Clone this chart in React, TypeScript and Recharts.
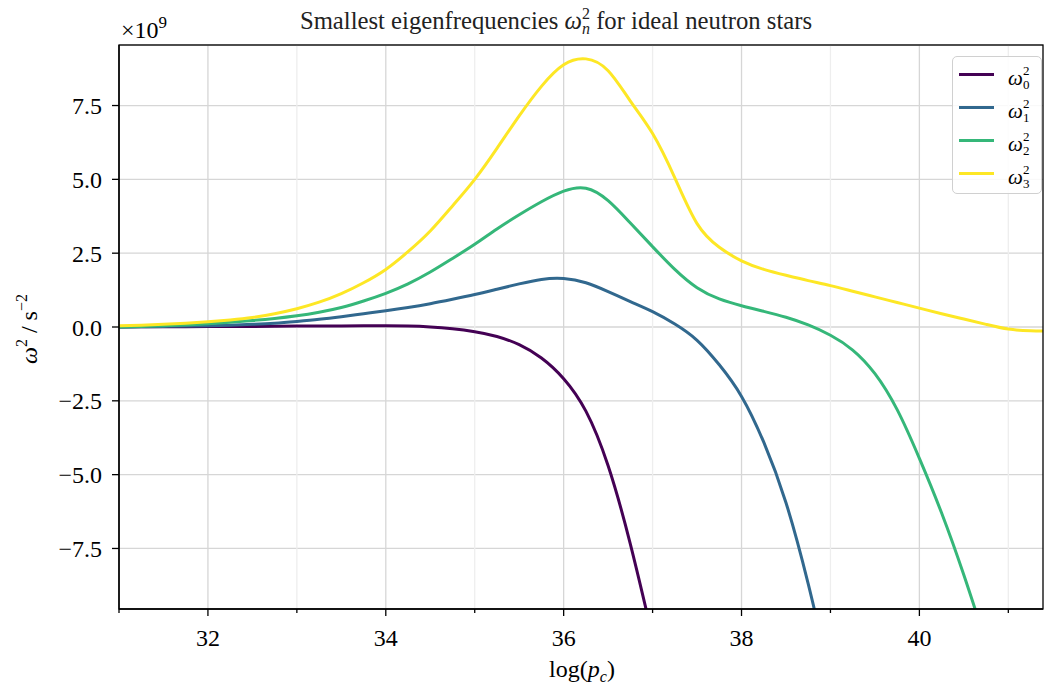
import {
  CartesianGrid,
  Legend,
  Line,
  LineChart,
  ReferenceLine,
  XAxis,
  YAxis,
} from "recharts";

// log(p_c) sample positions
const logPc = [
  31, 31.25, 31.5, 31.75, 32, 32.25, 32.5, 32.75, 33, 33.25, 33.5, 33.75, 34, 34.25, 34.5, 34.75,
  35, 35.25, 35.5, 35.75, 36, 36.25, 36.5, 36.75, 37, 37.25, 37.5, 37.75, 38, 38.25, 38.5, 38.75,
  39, 39.25, 39.5, 39.75, 40, 40.25, 40.5, 40.75, 41, 41.25, 41.5,
];

// omega_n^2 in units of 1e9 s^-2 (series stop once the curve has left the plot)
const omega0 = [
  0, 0.005, 0.01, 0.01, 0.015, 0.02, 0.02, 0.025, 0.03, 0.03, 0.035, 0.04, 0.04, 0.03, 0.0, -0.06,
  -0.16, -0.32, -0.6, -1.05, -1.75, -2.85, -4.7, -7.35, -10.5,
];
const omega1 = [
  0, 0.01, 0.02, 0.03, 0.04, 0.06, 0.09, 0.13, 0.19, 0.26, 0.35, 0.45, 0.55, 0.66, 0.79, 0.94,
  1.1, 1.28, 1.46, 1.61, 1.64, 1.5, 1.2, 0.86, 0.52, 0.1, -0.45, -1.28, -2.35, -3.9, -5.95, -8.7,
  -11.9,
];
const omega2 = [
  0, 0.02, 0.04, 0.07, 0.11, 0.16, 0.22, 0.29, 0.38, 0.5, 0.66, 0.88, 1.14, 1.46, 1.86, 2.32,
  2.8, 3.32, 3.8, 4.24, 4.6, 4.7, 4.28, 3.52, 2.72, 1.95, 1.33, 0.95, 0.72, 0.53, 0.33, 0.07,
  -0.28, -0.78, -1.58, -2.8, -4.45, -6.3, -8.4, -10.7,
];
const omega3 = [
  0.04, 0.06, 0.09, 0.13, 0.18, 0.24, 0.32, 0.45, 0.62, 0.84, 1.13, 1.5, 1.95, 2.55, 3.25, 4.1,
  5.0, 6.05, 7.15, 8.15, 8.88, 9.08, 8.68, 7.65, 6.55, 5.05, 3.5, 2.7, 2.24, 1.95, 1.75, 1.57,
  1.4, 1.21, 1.02, 0.83, 0.64, 0.45, 0.27, 0.09, -0.07, -0.13, -0.14,
];

const yTicks = [-7.5, -5, -2.5, 0, 2.5, 5, 7.5];
const xTicks = [31, 32, 33, 34, 35, 36, 37, 38, 39, 40, 41];
const majorX = [32, 34, 36, 38, 40];
const minorX = [31, 33, 35, 37, 39, 41];

const SERIES = [
  { key: "w0", idx: "0", color: "#440154" },
  { key: "w1", idx: "1", color: "#31688e" },
  { key: "w2", idx: "2", color: "#35b779" },
  { key: "w3", idx: "3", color: "#fde725" },
];

const data = logPc.map((x, i) => ({
  x,
  w0: omega0[i] ?? null,
  w1: omega1[i] ?? null,
  w2: omega2[i] ?? null,
  w3: omega3[i] ?? null,
}));

const FONT = "'Liberation Serif', 'Times New Roman', serif";
const W = 1044;
const H = 684;

const fmtY = (v: number) => v.toFixed(1).replace("-", "\u2212");

function XTick(props: any) {
  const { x, y, payload } = props;
  const major = majorX.includes(payload.value);
  return (
    <g>
      <line x1={x} x2={x} y1={y} y2={y + (major ? 7 : 4)} stroke="#000" strokeWidth={1.3} />
      {major && (
        <text x={x} y={y + 37} textAnchor="middle" fontSize={24} fontFamily={FONT} fill="#000">
          {payload.value}
        </text>
      )}
    </g>
  );
}

function LegendBox(props: any) {
  const items = props.payload ?? [];
  return (
    <div
      style={{
        width: 90,
        height: 138,
        boxSizing: "border-box",
        border: "1.5px solid #d0d0d0",
        borderRadius: 5,
        background: "rgba(255,255,255,0.85)",
        paddingTop: 1,
      }}
    >
      {items.map((it: any) => {
        const s = SERIES.find((d) => d.key === it.dataKey);
        return (
          <svg key={it.dataKey} width={86} height={33} style={{ display: "block" }}>
            <line x1={6} x2={41} y1={16.5} y2={16.5} stroke={it.color} strokeWidth={3} />
            <text x={55} y={27} fontFamily={FONT} fontSize={21} fontStyle="italic" fill="#000">
              ω
            </text>
            <text x={70} y={17} fontFamily={FONT} fontSize={13} fill="#000">
              2
            </text>
            <text x={70} y={31} fontFamily={FONT} fontSize={13} fill="#000">
              {s?.idx}
            </text>
          </svg>
        );
      })}
    </div>
  );
}

export default function App() {
  return (
    <div style={{ position: "absolute", left: 0, top: 0, width: W, height: H, background: "#fff" }}>
      <LineChart width={W} height={H} data={data} margin={{ top: 45, right: 1, bottom: 0, left: 0 }}>
        <CartesianGrid vertical={false} stroke="#d6d6d6" strokeWidth={1.3} />
        {minorX.map((v) => (
          <ReferenceLine key={"m" + v} x={v} stroke="#eeeeee" strokeWidth={1.3} />
        ))}
        {majorX.map((v) => (
          <ReferenceLine key={"M" + v} x={v} stroke="#d6d6d6" strokeWidth={1.3} />
        ))}
        <XAxis
          dataKey="x"
          type="number"
          domain={[31, 41.39]}
          allowDataOverflow
          ticks={xTicks}
          interval={0}
          height={75}
          tickSize={0}
          tickMargin={0}
          tickLine={false}
          axisLine={{ stroke: "#000", strokeWidth: 1.3 }}
          tick={<XTick />}
        />
        <YAxis
          type="number"
          domain={[-9.55, 9.55]}
          allowDataOverflow
          ticks={yTicks}
          interval={0}
          width={119}
          tickSize={7}
          tickMargin={10}
          tickFormatter={fmtY}
          tickLine={{ stroke: "#000", strokeWidth: 1.3 }}
          axisLine={{ stroke: "#000", strokeWidth: 1.3 }}
          tick={{ fill: "#000", fontSize: 24, fontFamily: FONT }}
        />
        <Legend
          layout="vertical"
          align="center"
          verticalAlign="middle"
          wrapperStyle={{ left: 952, top: 56, width: 90, height: 138 }}
          content={<LegendBox />}
        />
        {SERIES.map((s) => (
          <Line
            key={s.key}
            dataKey={s.key}
            type="natural"
            stroke={s.color}
            strokeWidth={3}
            dot={false}
            activeDot={false}
            connectNulls={false}
            isAnimationActive={false}
          />
        ))}
      </LineChart>
      <svg
        width={W}
        height={H}
        style={{ position: "absolute", left: 0, top: 0, pointerEvents: "none" }}
        fontFamily={FONT}
        fill="#000"
      >
        <rect x={119} y={45} width={924} height={564} fill="none" stroke="#000" strokeWidth={1.3} />
        <text x={556} y={29} textAnchor="middle" fontSize={24.7} fill="#222">
          <tspan>Smallest eigenfrequencies </tspan>
          <tspan fontStyle="italic">ω</tspan>
          <tspan fontSize={16} dy={-10}>2</tspan>
          <tspan fontSize={16} fontStyle="italic" dx={-8} dy={15}>n</tspan>
          <tspan dy={-5}> for ideal neutron stars</tspan>
        </text>
        <text x={121} y={38} fontSize={24}>
          <tspan>×10</tspan>
          <tspan fontSize={17} dy={-10}>9</tspan>
        </text>
        <text x={582} y={677} textAnchor="middle" fontSize={24}>
          <tspan>log(</tspan>
          <tspan fontStyle="italic">p</tspan>
          <tspan fontSize={16} fontStyle="italic" dy={5}>c</tspan>
          <tspan dy={-5}>)</tspan>
        </text>
        <text x={37} y={329} textAnchor="middle" fontSize={24} transform="rotate(-90 37 329)">
          <tspan fontStyle="italic">ω</tspan>
          <tspan fontSize={16} dy={-10}>2</tspan>
          <tspan dy={10}> / s</tspan>
          <tspan fontSize={16} dy={-10}>−2</tspan>
        </text>
      </svg>
    </div>
  );
}
